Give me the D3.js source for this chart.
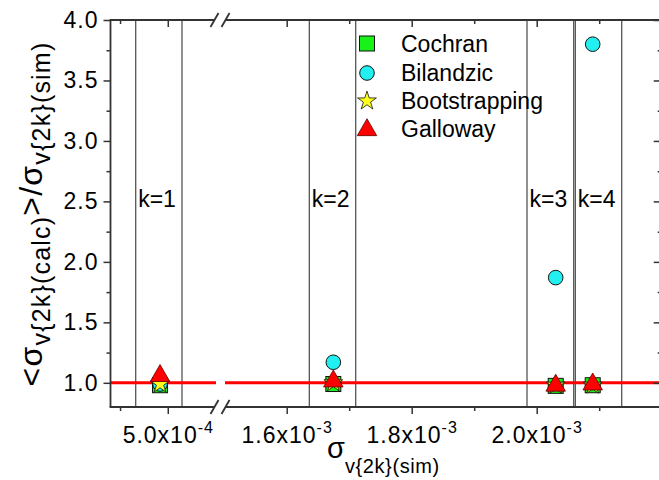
<!DOCTYPE html>
<html>
<head>
<meta charset="utf-8">
<script src="https://cdn.jsdelivr.net/npm/d3@7"></script>
<style>
body { margin: 0; background: #fff; }
text { font-family: "Liberation Sans", Arial, sans-serif; fill: #000; }
</style>
</head>
<body>
<svg id="chart" width="659" height="480"></svg>
<script>
// values
const kLabels = ["k=1", "k=2", "k=3", "k=4"];
const sigmaSim = [4.919e-4, 1.6746e-3, 2.0304e-3, 2.0896e-3];
const bandLo = [4.664e-4, 1.6362e-3, 1.9845e-3, 2.0618e-3];
const bandHi = [5.149e-4, 1.7104e-3, 2.0592e-3, 2.136e-3];
const cochran = [0.98, 0.99, 0.975, 0.98];
const bilandzic = [0.99, 1.17, 1.87, 3.80];
const bootstrapping = [0.99, 1.00, 0.98, 0.98];
const galloway = [1.07, 1.025, 0.99, 1.00];
const seriesNames = ["Cochran", "Bilandzic", "Bootstrapping", "Galloway"];
const yMajor = [1.0, 1.5, 2.0, 2.5, 3.0, 3.5, 4.0];
const yMinor = [1.25, 1.75, 2.25, 2.75, 3.25, 3.75];
const xMajorLeft = [5.0e-4];
const xMinorLeft = [4.5e-4];
const xMajorRight = [1.6e-3, 1.8e-3, 2.0e-3];
const xMinorRight = [1.7e-3, 1.9e-3, 2.1e-3];
const refValue = 1.0;

const svg = d3.select("#chart");
const plotTop = 20, plotBottom = 407, plotLeft = 110.5, plotRight = 661.7;
const breakL = 214, breakR = 226;

const xL = d3.scaleLinear().domain([4.4e-4, 5.5e-4]).range([plotLeft, 215.5]);
const xR = d3.scaleLinear().domain([1.5e-3, 2.2e-3]).range([224.2, plotRight]);
const x = v => v < 1e-3 ? xL(v) : xR(v);
const y = d3.scaleLinear().domain([0.8, 4.0]).range([plotBottom, plotTop]);

const axisColor = "#333";

// band lines
const bands = svg.append("g");
kLabels.forEach((k, i) => {
    for (let v of [bandLo[i], bandHi[i]]) {
        bands.append("line")
            .attr("x1", x(v)).attr("x2", x(v))
            .attr("y1", plotTop).attr("y2", plotBottom)
            .attr("stroke", "#555").attr("stroke-width", 1.3);
    }
    svg.append("text")
        .attr("x", x(bandLo[i]) + 2.5).attr("y", 207)
        .attr("font-size", 23).text(k);
});

// reference line at 1.0, broken at the axis break
svg.append("line").attr("x1", plotLeft).attr("x2", 216)
    .attr("y1", y(refValue)).attr("y2", y(refValue))
    .attr("stroke", "#f00").attr("stroke-width", 3);
svg.append("line").attr("x1", 225).attr("x2", 659)
    .attr("y1", y(refValue)).attr("y2", y(refValue))
    .attr("stroke", "#f00").attr("stroke-width", 3);

// axes
function styleAxis(g) {
    g.select(".domain").remove();
    g.selectAll("line").attr("stroke", axisColor).attr("stroke-width", 1.5);
}

function sciLabel(sel) {
    sel.each(function(v) {
        const e = Math.floor(Math.log10(v) + 1e-9);
        const m = (v / Math.pow(10, e)).toFixed(1);
        const t = d3.select(this).append("text")
            .attr("y", 36).attr("text-anchor", "middle")
            .attr("font-size", 23).attr("letter-spacing", 1).attr("x", 0)
            .attr("fill", "#000");
        t.append("tspan").text(m + "x10");
        t.append("tspan").attr("font-size", 16).attr("dy", -10).text(e);
    });
}

// bottom
const bottomG = svg.append("g").attr("transform", `translate(0,${plotBottom})`);
bottomG.append("g").call(d3.axisBottom(xL).tickValues(xMinorLeft).tickSize(4).tickFormat("")).call(styleAxis);
bottomG.append("g").call(d3.axisBottom(xR).tickValues(xMinorRight).tickSize(4).tickFormat("")).call(styleAxis);
bottomG.append("g").call(d3.axisBottom(xL).tickValues(xMajorLeft).tickSize(7).tickFormat("")).call(styleAxis)
    .selectAll(".tick").call(sciLabel);
bottomG.append("g").call(d3.axisBottom(xR).tickValues(xMajorRight).tickSize(7).tickFormat("")).call(styleAxis)
    .selectAll(".tick").call(sciLabel);

// top (ticks point down into the plot)
const topG = svg.append("g").attr("transform", `translate(0,${plotTop})`);
topG.append("g").call(d3.axisBottom(xL).tickValues(xMinorLeft).tickSize(4).tickFormat("")).call(styleAxis);
topG.append("g").call(d3.axisBottom(xR).tickValues(xMinorRight).tickSize(4).tickFormat("")).call(styleAxis);
topG.append("g").call(d3.axisBottom(xL).tickValues(xMajorLeft).tickSize(7).tickFormat("")).call(styleAxis);
topG.append("g").call(d3.axisBottom(xR).tickValues(xMajorRight).tickSize(7).tickFormat("")).call(styleAxis);

// left
const leftG = svg.append("g").attr("transform", `translate(${plotLeft},0)`);
leftG.append("g").call(d3.axisLeft(y).tickValues(yMinor).tickSize(4).tickFormat("")).call(styleAxis);
leftG.append("g").call(d3.axisLeft(y).tickValues(yMajor).tickSize(7).tickPadding(5)
    .tickFormat(d3.format(".1f"))).call(styleAxis)
    .selectAll("text").attr("font-size", 23).attr("letter-spacing", 1)
    .attr("font-family", "Liberation Sans, Arial, sans-serif").attr("fill", "#000");

// right (inward ticks)
const rightG = svg.append("g").attr("transform", `translate(${plotRight},0)`);
rightG.append("g").call(d3.axisLeft(y).tickValues(yMinor).tickSize(4).tickFormat("")).call(styleAxis);
rightG.append("g").call(d3.axisLeft(y).tickValues(yMajor).tickSize(8).tickFormat("")).call(styleAxis);

// frame lines
const frame = svg.append("g").attr("stroke", axisColor).attr("stroke-width", 1.8);
frame.append("line").attr("x1", plotLeft).attr("x2", plotLeft).attr("y1", plotTop).attr("y2", plotBottom);
frame.append("line").attr("x1", plotLeft - 0.9).attr("x2", breakL).attr("y1", plotBottom).attr("y2", plotBottom);
frame.append("line").attr("x1", breakR).attr("x2", 659).attr("y1", plotBottom).attr("y2", plotBottom);
frame.append("line").attr("x1", plotLeft - 0.9).attr("x2", breakL).attr("y1", plotTop).attr("y2", plotTop);
frame.append("line").attr("x1", breakR).attr("x2", 659).attr("y1", plotTop).attr("y2", plotTop);
// break marks
for (let yy of [plotTop, plotBottom]) {
    for (let cx of [214.5, 225.5]) {
        frame.append("line")
            .attr("x1", cx - 4).attr("y1", yy + 7)
            .attr("x2", cx + 4).attr("y2", yy - 7);
    }
}

// markers
const star = d3.symbol().type(d3.symbolStar).size(110);
const tri = d3.symbol().type(d3.symbolTriangle).size(165);
function drawSquare(g, cx, cy) {
    g.append("rect").attr("x", cx - 7.5).attr("y", cy - 7.5)
        .attr("width", 15).attr("height", 15)
        .attr("fill", "#19f219").attr("stroke", "#111").attr("stroke-width", 1);
}
function drawCircle(g, cx, cy) {
    g.append("circle").attr("cx", cx).attr("cy", cy).attr("r", 7.3)
        .attr("fill", "#22f0f0").attr("stroke", "#111").attr("stroke-width", 1);
}
function drawStar(g, cx, cy) {
    g.append("path").attr("d", star).attr("transform", `translate(${cx},${cy})`)
        .attr("fill", "#ffff1a").attr("stroke", "#111").attr("stroke-width", 0.8);
}
function drawTri(g, cx, cy) {
    g.append("path").attr("d", tri).attr("transform", `translate(${cx},${cy + 1.5})`)
        .attr("fill", "#f00").attr("stroke", "#600").attr("stroke-width", 0.8);
}
const drawers = [drawSquare, drawCircle, drawStar, drawTri];
const allSeries = [cochran, bilandzic, bootstrapping, galloway];

const pts = svg.append("g");
allSeries.forEach((s, j) => {
    s.forEach((v, i) => drawers[j](pts, x(sigmaSim[i]), y(v)));
});

// legend
const legend = svg.append("g");
const legendY = [43.5, 73, 101, 128.5];
seriesNames.forEach((name, j) => {
    drawers[j](legend, 367, legendY[j]);
    legend.append("text").attr("x", 401).attr("y", legendY[j] + 8)
        .attr("font-size", 23).text(name);
});

// axis titles
const xt = svg.append("text").attr("x", 327).attr("y", 458).attr("font-size", 29);
xt.append("tspan").text("σ");
xt.append("tspan").attr("font-size", 20).attr("dy", 15).attr("letter-spacing", 0.6).text("v{2k}(sim)");

const yt = svg.append("text").attr("transform", "translate(42,214) rotate(-90)")
    .attr("text-anchor", "middle").attr("font-size", 32).attr("letter-spacing", 1.2);
yt.append("tspan").text("<σ");
yt.append("tspan").attr("font-size", 25).attr("dy", 8).text("v{2k}(calc)");
yt.append("tspan").attr("dy", -8).text(">/σ");
yt.append("tspan").attr("font-size", 25).attr("dy", 8).text("v{2k}(sim)");
</script>
</body>
</html>
